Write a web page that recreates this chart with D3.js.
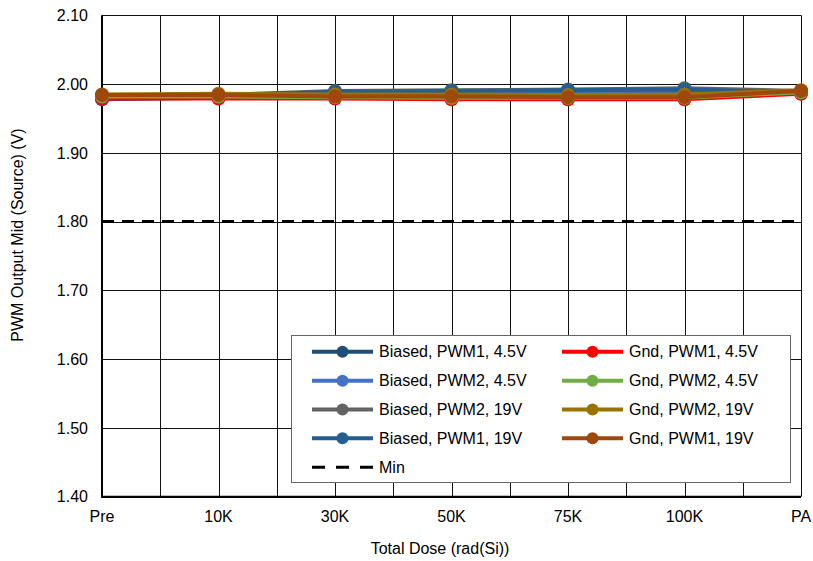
<!DOCTYPE html>
<html><head><meta charset="utf-8">
<script src="https://cdn.jsdelivr.net/npm/d3@7"></script>
<style>body{margin:0;background:#fff}svg{display:block;font-family:"Liberation Sans",Arial,sans-serif}</style>
</head><body><svg id="c" width="813" height="561"></svg>
<script>
const categories = ["Pre","10K","30K","50K","75K","100K","PA"];
const yTicks = [1.40,1.50,1.60,1.70,1.80,1.90,2.00,2.10];
const seriesNames = ["Biased, PWM1, 4.5V","Biased, PWM2, 4.5V","Biased, PWM2, 19V","Biased, PWM1, 19V",
                     "Gnd, PWM1, 4.5V","Gnd, PWM2, 4.5V","Gnd, PWM2, 19V","Gnd, PWM1, 19V"];
const seriesColors = ["#1F4E79","#4472C4","#636363","#255E91","#FF0000","#70AD47","#997300","#9E480E"];
const biasedPwm1_45 = [1.978,1.980,1.985,1.986,1.987,1.988,1.987];
const biasedPwm2_45 = [1.979,1.981,1.986,1.987,1.988,1.989,1.988];
const biasedPwm2_19 = [1.981,1.984,1.990,1.991,1.992,1.994,1.990];
const biasedPwm1_19 = [1.980,1.983,1.989,1.990,1.991,1.992,1.988];
const gndPwm1_45 = [1.979,1.979,1.979,1.978,1.978,1.978,1.986];
const gndPwm2_45 = [1.982,1.982,1.981,1.980,1.980,1.980,1.988];
const gndPwm2_19 = [1.985,1.986,1.985,1.985,1.984,1.985,1.991];
const gndPwm1_19 = [1.984,1.984,1.982,1.982,1.981,1.981,1.990];
const seriesValues = [biasedPwm1_45,biasedPwm2_45,biasedPwm2_19,biasedPwm1_19,gndPwm1_45,gndPwm2_45,gndPwm2_19,gndPwm1_19];
const minValue = [1.80,1.80,1.80,1.80,1.80,1.80,1.80];
const xTitle = "Total Dose (rad(Si))";
const yTitle = "PWM Output Mid (Source) (V)";

const L=102, R=801, T=15.3, B=496.7;
const svg = d3.select("#c");
const xi = d3.scaleLinear().domain([0,categories.length-1]).range([L,R]);
const y = d3.scaleLinear().domain([1.4,2.1]).range([B,T]);

// grid
const g = svg.append("g");
const vg = d3.range(0, categories.length-1+0.001, 0.5);
g.selectAll(".vg").data(vg).join("line")
 .attr("x1",d=>Math.round(xi(d))+0.5).attr("x2",d=>Math.round(xi(d))+0.5)
 .attr("y1",T).attr("y2",B).attr("stroke","#111").attr("stroke-width",1);
g.selectAll(".hg").data(yTicks).join("line")
 .attr("x1",L).attr("x2",R).attr("y1",d=>Math.round(y(d))+0.5).attr("y2",d=>Math.round(y(d))+0.5)
 .attr("stroke","#111").attr("stroke-width",1);
// axes lines
svg.append("line").attr("x1",L).attr("x2",L).attr("y1",T).attr("y2",B+1).attr("stroke","#000").attr("stroke-width",2);
svg.append("line").attr("x1",L-1).attr("x2",R).attr("y1",B).attr("y2",B).attr("stroke","#000").attr("stroke-width",2);

// y tick labels
svg.selectAll(".yt").data(yTicks).join("text")
 .attr("x",88).attr("y",d=>y(d)).attr("dy","0.36em").attr("text-anchor","end")
 .attr("font-size",16).attr("fill","#000").text(d=>d.toFixed(2));
// x tick labels
svg.selectAll(".xt").data(categories).join("text")
 .attr("x",(d,i)=>xi(i)).attr("y",522).attr("text-anchor","middle")
 .attr("font-size",16).attr("fill","#000").text(d=>d);
svg.append("text").attr("x",440).attr("y",554).attr("text-anchor","middle").attr("font-size",16).text(xTitle);
svg.append("text").attr("transform","translate(23,235) rotate(-90)").attr("text-anchor","middle").attr("font-size",16).text(yTitle);

// min line
const line = d3.line().x((d,i)=>xi(i)).y(d=>y(d));
svg.append("path").attr("d",line(minValue)).attr("fill","none").attr("stroke","#000")
 .attr("stroke-width",3).attr("stroke-dasharray","12,8");

// series
seriesValues.forEach((vals,si)=>{
  const s = svg.append("g");
  s.append("path").attr("d",line(vals)).attr("fill","none").attr("stroke",seriesColors[si]).attr("stroke-width",4);
  s.selectAll("circle").data(vals).join("circle").attr("cx",(d,i)=>xi(i)).attr("cy",d=>y(d)).attr("r",7)
   .attr("fill",seriesColors[si]);
});

// legend
const lg = svg.append("g");
lg.append("rect").attr("x",291.5).attr("y",335.5).attr("width",499).attr("height",147)
  .attr("fill","#fff").attr("stroke","#666").attr("stroke-width",1);
const rowY = [351.7,380.7,409.5,438.3,467.3];
const colX = [312,562];
seriesNames.forEach((n,i)=>{
  const c = Math.floor(i/4), r = i%4;
  const x0 = colX[c], yy = rowY[r];
  lg.append("line").attr("x1",x0).attr("x2",x0+61).attr("y1",yy).attr("y2",yy).attr("stroke",seriesColors[i]).attr("stroke-width",4);
  lg.append("circle").attr("cx",x0+30.5).attr("cy",yy).attr("r",6).attr("fill",seriesColors[i]);
  lg.append("text").attr("x",x0+67).attr("y",yy).attr("dy","0.36em").attr("font-size",16).text(n);
});
lg.append("line").attr("x1",312).attr("x2",373).attr("y1",rowY[4]).attr("y2",rowY[4]).attr("stroke","#000")
  .attr("stroke-width",3).attr("stroke-dasharray","13,11");
lg.append("text").attr("x",379).attr("y",rowY[4]).attr("dy","0.36em").attr("font-size",16).text("Min");
</script></body></html>
